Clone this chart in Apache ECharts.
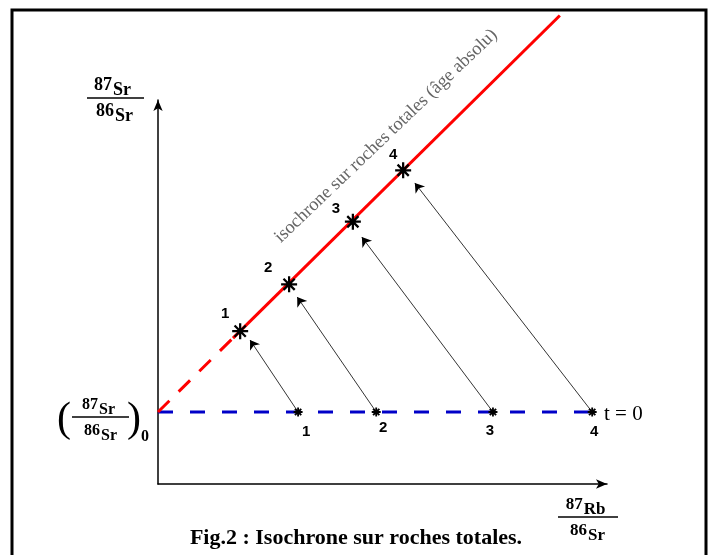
<!DOCTYPE html>
<html>
<head>
<meta charset="utf-8">
<script src="https://cdn.jsdelivr.net/npm/echarts@6/dist/echarts.min.js"></script>
<style>
  html, body { margin: 0; padding: 0; background: #fff; }
  #chart { width: 712px; height: 555px; }
</style>
</head>
<body>
<div id="chart"></div>
<script>
// numéros des échantillons (roches totales)
var rocks = ['1', '2', '3', '4'];
// à t = 0 : même rapport 87Sr/86Sr, rapports 87Rb/86Sr différents
var initialRb = [31.2, 48.6, 74.6, 96.7];
var initialSr = [18.75, 18.75, 18.75, 18.75];
// aujourd'hui : points alignés sur l'isochrone
var presentRb = [18.3, 29.2, 43.4, 54.6];
var presentSr = [39.8, 52.0, 68.3, 81.7];
// pointes des flèches (un peu avant les points actuels)
var arrowRb = [20.5, 31.0, 45.4, 57.2];
var arrowSr = [37.5, 48.7, 64.3, 78.4];
// isochrone : partie extrapolée (tirets) puis partie mesurée
var isoDashRb = [0, 16.7];
var isoDashSr = [18.75, 38.0];
var isoRb = [16.7, 89.5];
var isoSr = [38.0, 122];
// droite t = 0
var baseRb = [0, 96.7];
var baseSr = [18.75, 18.75];

var serif = '"Liberation Serif", "DejaVu Serif", serif';
var sans = '"Liberation Sans", Arial, sans-serif';

// astérisque à 8 branches (toutes dans le même sens pour le remplissage)
var star = 'path://M-1.4,-10L1.4,-10L1.4,10L-1.4,10Z M-10,-1.4L10,-1.4L10,1.4L-10,1.4Z ' +
  'M-8,-6L-6,-8L8,6L6,8Z M6,-8L8,-6L-6,8L-8,6Z';
// petit astérisque plus épais pour les points à t = 0
var smallStar = 'path://M-2,-10L2,-10L2,10L-2,10Z M-10,-2L10,-2L10,2L-10,2Z ' +
  'M-8.5,-5.5L-5.5,-8.5L8.5,5.5L5.5,8.5Z M5.5,-8.5L8.5,-5.5L-5.5,8.5L-8.5,5.5Z';

function pairs(xs, ys) {
  return xs.map(function (x, i) { return [x, ys[i]]; });
}

var ctx = document.createElement('canvas').getContext('2d');
function textWidth(str, font) {
  ctx.font = font;
  return ctx.measureText(str).width;
}

// "87Sr" : nombre de masse puis symbole légèrement décalé vers le bas
function isotope(cx, base, mass, sym, fs, drop) {
  var font = 'bold ' + fs + 'px ' + serif;
  var wm = textWidth(mass, font);
  var ws = textWidth(sym, font);
  var left = cx - (wm + ws) / 2;
  return [
    { type: 'text', x: left, y: base, style: { text: mass, font: font, fill: '#000', textAlign: 'left', textVerticalAlign: 'bottom' } },
    { type: 'text', x: left + wm + 1, y: base + drop, style: { text: sym, font: font, fill: '#000', textAlign: 'left', textVerticalAlign: 'bottom' } },
  ];
}

function fraction(cx, lineY, x1, x2, top, bottom, fs) {
  var els = [];
  els = els.concat(isotope(cx, lineY - 4, top[0], top[1], fs, 5));
  els = els.concat(isotope(cx + 2, lineY + 22, bottom[0], bottom[1], fs, 5));
  els.push({ type: 'line', shape: { x1: x1, y1: lineY, x2: x2, y2: lineY }, style: { stroke: '#000', lineWidth: 1.5 } });
  return els;
}

var graphics = [
  { type: 'rect', shape: { x: 12, y: 10, width: 694, height: 570 }, style: { fill: 'none', stroke: '#000', lineWidth: 3 }, z: 10 },
  {
    type: 'text', x: 386, y: 136, rotation: 43.7 * Math.PI / 180,
    style: { text: 'isochrone sur roches totales (âge absolu)', font: '18.5px ' + serif, fill: '#666', textAlign: 'center', textVerticalAlign: 'middle' },
  },
  { type: 'text', x: 604, y: 414, style: { text: 't = 0', font: '21px ' + serif, fill: '#000', textAlign: 'left', textVerticalAlign: 'middle' } },
  { type: 'text', x: 64, y: 420, style: { text: '(', font: '42px ' + serif, fill: '#000', textAlign: 'center', textVerticalAlign: 'middle' } },
  { type: 'text', x: 134, y: 420, style: { text: ')', font: '42px ' + serif, fill: '#000', textAlign: 'center', textVerticalAlign: 'middle' } },
  { type: 'text', x: 145, y: 437, style: { text: '0', font: 'bold 16px ' + serif, fill: '#000', textAlign: 'center', textVerticalAlign: 'middle' } },
];
graphics = graphics.concat(fraction(112, 98, 87, 144, ['87', 'Sr'], ['86', 'Sr'], 18));
graphics = graphics.concat(fraction(98, 417, 72, 129, ['87', 'Sr'], ['86', 'Sr'], 16));
graphics = graphics.concat(fraction(585, 517, 558, 618, ['87', 'Rb'], ['86', 'Sr'], 17));

var presentOffsets = [[-15, -17], [-21, -16], [-17, -13], [-10, -15]];
var initialOffsets = [[8, 20], [7, 16], [-3, 19], [2, 20]];

var numLabel = {
  show: true, position: 'inside',
  formatter: function (p) { return rocks[p.dataIndex]; },
  fontFamily: sans, fontWeight: 'bold', fontSize: 15, color: '#000',
  textBorderWidth: 0, opacity: 1,
};

var chart = echarts.init(document.getElementById('chart'));
var option = {
  animation: false,
  backgroundColor: '#fff',
  title: {
    text: 'Fig.2 : Isochrone sur roches totales.',
    left: 'center',
    top: 522,
    textStyle: { fontFamily: serif, fontSize: 22, fontWeight: 'bold', color: '#000' },
  },
  grid: { left: 158, top: 100, width: 449, height: 384 },
  xAxis: {
    type: 'value', min: 0, max: 100,
    axisLine: { show: true, onZero: false, symbol: ['none', 'arrow'], symbolSize: [7, 11], lineStyle: { color: '#000', width: 1.5 } },
    axisTick: { show: false }, axisLabel: { show: false }, splitLine: { show: false },
  },
  yAxis: {
    type: 'value', min: 0, max: 100,
    axisLine: { show: true, onZero: false, symbol: ['none', 'arrow'], symbolSize: [7, 11], lineStyle: { color: '#000', width: 1.5 } },
    axisTick: { show: false }, axisLabel: { show: false }, splitLine: { show: false },
  },
  series: [
    {
      type: 'line', // droite t = 0
      data: pairs(baseRb, baseSr),
      symbol: 'none',
      lineStyle: { color: '#0000c8', width: 3, type: [15, 17] },
      z: 2,
    },
    {
      type: 'line', // extrapolation de l'isochrone
      data: pairs(isoDashRb, isoDashSr),
      symbol: 'none',
      lineStyle: { color: '#ff0000', width: 3, type: [16, 13] },
      z: 3,
    },
    {
      type: 'line', // isochrone
      data: pairs(isoRb, isoSr),
      symbol: 'none',
      clip: false,
      lineStyle: { color: '#ff0000', width: 3 },
      z: 3,
    },
    {
      type: 'lines', // évolution de chaque roche
      coordinateSystem: 'cartesian2d',
      symbol: ['none', 'arrow'],
      symbolSize: [6, 9],
      lineStyle: { color: '#000', width: 0.8, opacity: 1, curveness: 0 },
      data: initialRb.map(function (x, i) {
        return { coords: [[x, initialSr[i]], [arrowRb[i], arrowSr[i]]] };
      }),
      z: 4,
    },
    {
      type: 'scatter', // points actuels
      symbol: star,
      symbolSize: 16,
      itemStyle: { color: '#000', opacity: 1 },
      data: presentRb.map(function (x, i) {
        return { value: [x, presentSr[i]], label: { offset: presentOffsets[i] } };
      }),
      label: numLabel,
      z: 5,
    },
    {
      type: 'scatter', // points à t = 0
      symbol: smallStar,
      symbolSize: 9,
      itemStyle: { color: '#000', opacity: 1 },
      data: initialRb.map(function (x, i) {
        return { value: [x, initialSr[i]], label: { offset: initialOffsets[i] } };
      }),
      label: numLabel,
      z: 5,
    },
  ],
  graphic: { elements: graphics },
};
chart.setOption(option);
</script>
</body>
</html>
